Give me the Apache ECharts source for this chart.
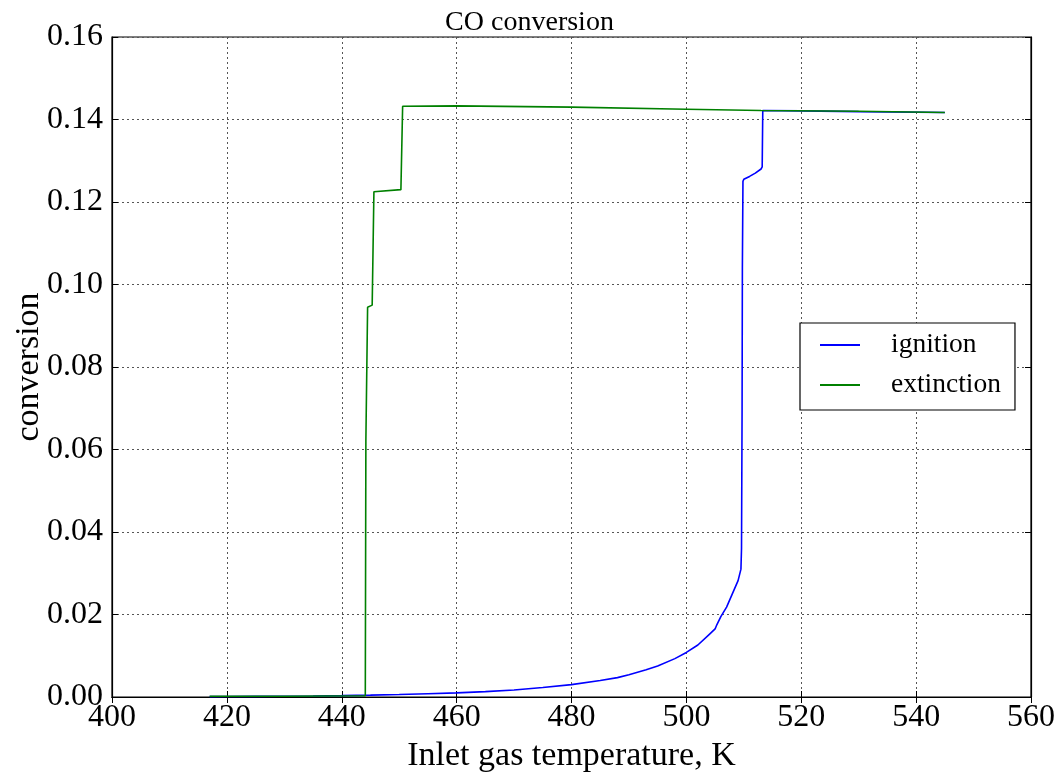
<!DOCTYPE html>
<html>
<head>
<meta charset="utf-8">
<script src="https://cdn.jsdelivr.net/npm/echarts@6/dist/echarts.min.js"></script>
<style>html,body{margin:0;padding:0;background:#fff}#c{width:1059px;height:773px}</style>
</head>
<body>
<div id="c"></div>
<script>
const title = 'CO conversion';
const xName = 'Inlet gas temperature, K';
const yName = 'conversion';
const seriesNames = ['ignition', 'extinction'];

const ignitionT = [417, 420, 425, 430, 435, 440, 445, 450, 455, 460, 465, 470, 475, 480, 485, 488, 490, 493, 495, 498, 500, 502, 504, 505, 505.3, 506, 507, 508, 509, 509.5, 509.6, 509.7, 509.75, 509.85, 510, 511, 512, 513, 513.2, 513.3, 520, 530, 545];
const ignitionX = [0.0001, 0.00012, 0.00016, 0.0002, 0.00026, 0.00034, 0.00045, 0.0006, 0.0008, 0.001, 0.0013, 0.0017, 0.0023, 0.003, 0.004, 0.0047, 0.0054, 0.0066, 0.0075, 0.0093, 0.0108, 0.0126, 0.0152, 0.0165, 0.0175, 0.0195, 0.0218, 0.025, 0.0282, 0.031, 0.036, 0.07, 0.104, 0.125, 0.1255, 0.1262, 0.127, 0.128, 0.1285, 0.1422, 0.1421, 0.1419, 0.1417];

const extinctionT = [417, 430, 444.1, 444.2, 444.5, 445.3, 445.6, 450.3, 450.6, 460, 480, 500, 513, 530, 545];
const extinctionX = [0.0002, 0.0002, 0.0003, 0.062, 0.0945, 0.095, 0.1225, 0.123, 0.1432, 0.1433, 0.143, 0.1425, 0.1422, 0.142, 0.1417];

const xMin = 400, xMax = 560, xStep = 20;
const yMin = 0, yMax = 0.16, yStep = 0.02;

const zip = (a, b) => a.map((v, i) => [v, b[i]]);
const font = 'Liberation Serif';
const gridLine = { show: true, lineStyle: { color: '#555', type: [2, 3], width: 1 } };

const chart = echarts.init(document.getElementById('c'), null, { renderer: 'canvas' });
chart.setOption({
  animation: false,
  backgroundColor: '#fff',
  title: { text: title, left: 'center', top: 4, textStyle: { fontFamily: font, fontSize: 28, fontWeight: 'normal', color: '#000' } },
  grid: { left: 112, right: 28, top: 37, bottom: 76, show: true, borderColor: '#000', borderWidth: 1.2, outerBoundsMode: 'none', containLabel: false },
  legend: {
    orient: 'vertical', left: 800, top: 323,
    data: seriesNames,
    borderColor: '#000', borderWidth: 1.2, backgroundColor: '#fff',
    padding: [8, 14, 11, 20],
    itemWidth: 40, itemHeight: 14, itemGap: 12,
    icon: 'path://M0,6 L40,6 L40,8 L0,8 Z',
    textStyle: { fontFamily: font, fontSize: 27.5, color: '#000', lineHeight: 28, padding: [0, 0, 0, 26] }
  },
  xAxis: [{
    type: 'value', min: xMin, max: xMax, interval: xStep, position: 'bottom',
    name: xName, nameLocation: 'middle', nameGap: 42, nameMoveOverlap: false,
    nameTextStyle: { fontFamily: font, fontSize: 34, color: '#000' },
    axisLine: { show: true, lineStyle: { color: '#000', width: 1.2 } },
    axisTick: { show: true, inside: true, length: 6, lineStyle: { color: '#000' } },
    axisLabel: { fontFamily: font, fontSize: 32, color: '#000', margin: 5 },
    splitLine: gridLine
  }, {
    type: 'value', min: xMin, max: xMax, interval: xStep, position: 'top',
    axisLine: { show: true, lineStyle: { color: '#000', width: 1.2 } },
    axisTick: { show: true, inside: true, length: 6, lineStyle: { color: '#000' } },
    axisLabel: { show: false }, splitLine: { show: false }
  }],
  yAxis: [{
    type: 'value', min: yMin, max: yMax, interval: yStep, position: 'left',
    name: yName, nameLocation: 'middle', nameGap: 66, nameRotate: 90, nameMoveOverlap: false,
    nameTextStyle: { fontFamily: font, fontSize: 34, color: '#000' },
    axisLine: { show: true, lineStyle: { color: '#000', width: 1.2 } },
    axisTick: { show: true, inside: true, length: 6, lineStyle: { color: '#000' } },
    axisLabel: { fontFamily: font, fontSize: 32, color: '#000', margin: 9, formatter: v => v.toFixed(2) },
    splitLine: gridLine
  }, {
    type: 'value', min: yMin, max: yMax, interval: yStep, position: 'right',
    axisLine: { show: true, lineStyle: { color: '#000', width: 1.2 } },
    axisTick: { show: true, inside: true, length: 6, lineStyle: { color: '#000' } },
    axisLabel: { show: false }, splitLine: { show: false }
  }],
  series: [{
    name: seriesNames[0], type: 'line', data: zip(ignitionT, ignitionX),
    showSymbol: false, symbol: 'none', smooth: false,
    itemStyle: { color: '#0000ff' }, lineStyle: { color: '#0000ff', width: 1.6 }
  }, {
    name: seriesNames[1], type: 'line', data: zip(extinctionT, extinctionX),
    showSymbol: false, symbol: 'none', smooth: false,
    itemStyle: { color: '#008000' }, lineStyle: { color: '#008000', width: 1.6 }
  }]
});
</script>
</body>
</html>
